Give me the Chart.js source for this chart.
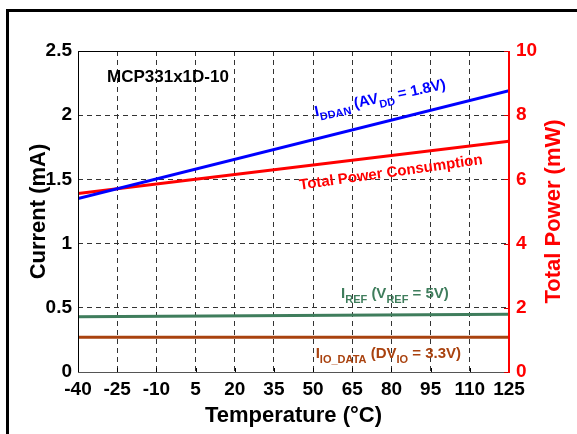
<!DOCTYPE html>
<html><head><meta charset="utf-8">
<script src="https://cdn.jsdelivr.net/npm/chart.js@4/dist/chart.umd.min.js"></script>
<style>
html,body{margin:0;padding:0;background:#fff;width:577px;height:434px;overflow:hidden}
#frame{position:absolute;left:6px;top:9px;width:700px;height:600px;border-left:3px solid #000;border-top:3px solid #000;box-sizing:border-box}
canvas{position:absolute;left:0;top:0}
</style></head>
<body><div id="frame"></div><canvas id="c" width="577" height="434"></canvas>
<script>
const temperatures = [-40, 125];
const iddan = [1.35, 2.19];        // mA
const totalPower = [5.56, 7.19];   // mW
const iref = [0.43, 0.45];         // mA
const iioData = [0.27, 0.27];      // mA
const xTicks = [-40, -25, -10, 5, 20, 35, 50, 65, 80, 95, 110, 125];
const currentTicks = [0, 0.5, 1, 1.5, 2, 2.5];
const powerTicks = [0, 2, 4, 6, 8, 10];

const FONT = '"Liberation Sans", Arial, sans-serif';
const pts = arr => temperatures.map((t, i) => ({x: t, y: arr[i]}));

function rich(ctx, parts, x, y, ang, color) {
  ctx.save();
  ctx.translate(x, y);
  ctx.rotate(ang * Math.PI / 180);
  ctx.fillStyle = color;
  ctx.textBaseline = 'alphabetic';
  ctx.textAlign = 'left';
  let cx = 0;
  for (const [t, sub] of parts) {
    ctx.font = (sub ? 'bold 11px ' : 'bold 15px ') + FONT;
    ctx.fillText(t, cx, sub ? 5 : 0);
    cx += ctx.measureText(t).width;
  }
  ctx.restore();
}

const deco = {
  id: 'deco',
  afterDraw(c) {
    const {ctx, chartArea: a, scales} = c;
    const xs = scales.x, ys = scales.y, y1 = scales.y1;
    ctx.save();
    ctx.setLineDash([]);
    // frame
    ctx.strokeStyle = '#000'; ctx.lineWidth = 1;
    ctx.beginPath();
    ctx.moveTo(a.right, a.top + 0.5); ctx.lineTo(a.left + 0.5, a.top + 0.5); ctx.lineTo(a.left + 0.5, a.bottom + 0.5);
    ctx.stroke();
    ctx.strokeStyle = '#555';
    ctx.beginPath(); ctx.moveTo(a.left, a.bottom + 0.5); ctx.lineTo(a.right, a.bottom + 0.5); ctx.stroke();
    // bottom tick marks
    ctx.strokeStyle = '#000';
    for (const v of xTicks) {
      const px = Math.round(xs.getPixelForValue(v)) + 0.5;
      ctx.beginPath(); ctx.moveTo(px, a.bottom); ctx.lineTo(px, a.bottom - 4); ctx.stroke();
    }
    // right axis
    ctx.strokeStyle = '#cc0000';
    for (const v of powerTicks) {
      const py = Math.round(y1.getPixelForValue(v)) + 0.5;
      ctx.beginPath(); ctx.moveTo(a.right, py); ctx.lineTo(a.right - 5, py); ctx.stroke();
    }
    ctx.strokeStyle = '#ff0000'; ctx.lineWidth = 2;
    ctx.beginPath(); ctx.moveTo(a.right, a.top); ctx.lineTo(a.right, a.bottom + 1); ctx.stroke();
    // axis titles
    ctx.font = 'bold 22px ' + FONT;
    ctx.textAlign = 'center'; ctx.textBaseline = 'middle';
    ctx.fillStyle = '#000';
    ctx.fillText('Temperature (°C)', (a.left + a.right) / 2, 416);
    ctx.save(); ctx.translate(39, (a.top + a.bottom) / 2); ctx.rotate(-Math.PI / 2);
    ctx.fillText('Current (mA)', 0, 0); ctx.restore();
    ctx.save(); ctx.fillStyle = '#ff0000'; ctx.translate(554, (a.top + a.bottom) / 2); ctx.rotate(-Math.PI / 2);
    ctx.fillText('Total Power (mW)', 0, 0); ctx.restore();
    // device label
    ctx.font = 'bold 17px ' + FONT; ctx.textAlign = 'left'; ctx.textBaseline = 'alphabetic'; ctx.fillStyle = '#000';
    ctx.fillText('MCP331x1D-10', xs.getPixelForValue(-28.9), ys.getPixelForValue(2.26));
    // series labels
    rich(ctx, [['I'], ['DDAN', 1], [' (AV'], ['DD', 1], [' = 1.8V)']], xs.getPixelForValue(51), ys.getPixelForValue(1.99), -12, '#0000ff');
    rich(ctx, [['Total Power Consumption']], xs.getPixelForValue(45), ys.getPixelForValue(1.42), -8, '#ff0000');
    rich(ctx, [['I'], ['REF', 1], [' (V'], ['REF', 1], [' = 5V)']], xs.getPixelForValue(60.7), ys.getPixelForValue(0.578), 0, '#3f7d5c');
    rich(ctx, [['I'], ['IO_DATA', 1], [' (DV'], ['IO', 1], [' = 3.3V)']], xs.getPixelForValue(51), ys.getPixelForValue(0.109), 0, '#a9420f');
    ctx.restore();
  }
};

const gridStyle = {color: '#333', lineWidth: 1, drawTicks: false};
new Chart(document.getElementById('c'), {
  type: 'line',
  data: {
    datasets: [
      {data: pts(iddan), borderColor: '#0000ff', borderWidth: 3, yAxisID: 'y'},
      {data: pts(totalPower), borderColor: '#ff0000', borderWidth: 3, yAxisID: 'y1'},
      {data: pts(iref), borderColor: '#3f7d5c', borderWidth: 3, yAxisID: 'y'},
      {data: pts(iioData), borderColor: '#a9420f', borderWidth: 3, yAxisID: 'y'}
    ]
  },
  options: {
    responsive: false, animation: false, devicePixelRatio: 1,
    layout: {padding: {top: 51, left: 0, right: 0, bottom: 0}},
    elements: {point: {radius: 0}, line: {tension: 0}},
    plugins: {legend: {display: false}, tooltip: {enabled: false}},
    scales: {
      x: {
        type: 'linear', min: -40, max: 125,
        afterBuildTicks: s => { s.ticks = xTicks.map(v => ({value: v})); },
        afterFit: s => { s.height = 62; },
        ticks: {font: {family: FONT, size: 19, weight: 'bold'}, color: '#000', padding: 6, maxRotation: 0, autoSkip: false, callback: v => String(v)},
        grid: gridStyle,
        border: {display: false, dash: [5, 4]}
      },
      y: {
        position: 'left', min: 0, max: 2.5,
        afterBuildTicks: s => { s.ticks = currentTicks.map(v => ({value: v})); },
        afterFit: s => { s.width = 78; },
        ticks: {font: {family: FONT, size: 19, weight: 'bold'}, color: '#000', padding: 6, callback: v => String(v)},
        grid: gridStyle,
        border: {display: false, dash: [5, 4]}
      },
      y1: {
        position: 'right', min: 0, max: 10,
        afterBuildTicks: s => { s.ticks = powerTicks.map(v => ({value: v})); },
        afterFit: s => { s.width = 68; },
        ticks: {font: {family: FONT, size: 19, weight: 'bold'}, color: '#ff0000', padding: 7, callback: v => String(v)},
        grid: {display: false, drawTicks: false},
        border: {display: false}
      }
    }
  },
  plugins: [deco]
});
</script>
</body></html>
